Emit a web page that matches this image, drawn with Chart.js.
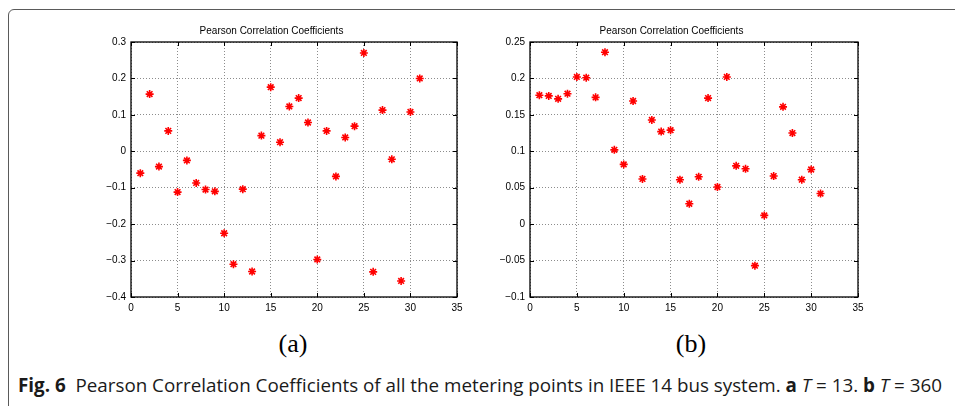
<!DOCTYPE html>
<html>
<head>
<meta charset="utf-8">
<script src="https://cdn.jsdelivr.net/npm/chart.js@4/dist/chart.umd.min.js"></script>
<style>
  html, body { margin:0; padding:0; background:#fff; }
  body { width:955px; height:406px; position:relative; overflow:hidden; }
  #frame { position:absolute; left:8px; top:9px; width:1000px; height:500px; border:1px solid #5a5a5a; border-top-left-radius:6px; box-sizing:border-box; }
  .wrap { position:absolute; top:20px; height:300px; }
  #wA { left:86px; width:384px; }
  #wB { left:485px; width:386px; }
  .sub { position:absolute; top:329px; font-family:"Liberation Serif","DejaVu Serif",serif; font-size:26px; line-height:30px; width:80px; text-align:center; color:#000; }
  #subA { left:253px; }
  #subB { left:651px; }
  #cap { position:absolute; left:18px; top:372px; font-family:"Open Sans","Noto Sans",sans-serif; font-size:19px; line-height:26px; white-space:nowrap; color:#1a1a1a; transform-origin:0 0; }
  #cap b { font-weight:700; }
</style>
</head>
<body>
<div id="frame"></div>
<div class="wrap" id="wA"><canvas id="cA"></canvas></div>
<div class="wrap" id="wB"><canvas id="cB"></canvas></div>
<div class="sub" id="subA">(a)</div>
<div class="sub" id="subB">(b)</div>
<div id="cap"><b>Fig. 6</b>&nbsp; Pearson Correlation Coefficients of all the metering points in IEEE 14 bus system. <b>a</b> <i>T</i> = 13. <b>b</b> <i>T</i> = 360</div>
<script>
// ---- data ----
const meteringPoints = [1,2,3,4,5,6,7,8,9,10,11,12,13,14,15,16,17,18,19,20,21,22,23,24,25,26,27,28,29,30,31];
const pccA = [-0.060, 0.157, -0.042, 0.056, -0.112, -0.025, -0.087, -0.105, -0.110, -0.225, -0.310, -0.104, -0.330, 0.043, 0.176, 0.025, 0.123, 0.146, 0.079, -0.297, 0.056, -0.069, 0.038, 0.069, 0.270, -0.331, 0.113, -0.022, -0.356, 0.108, 0.200];
const pccB = [0.177, 0.176, 0.172, 0.179, 0.202, 0.201, 0.174, 0.236, 0.102, 0.082, 0.169, 0.062, 0.143, 0.127, 0.129, 0.061, 0.028, 0.065, 0.173, 0.051, 0.202, 0.080, 0.076, -0.057, 0.012, 0.066, 0.161, 0.125, 0.061, 0.075, 0.042];
const xTicks = [0,5,10,15,20,25,30,35];
const yTicksA = [-0.4,-0.3,-0.2,-0.1,0,0.1,0.2,0.3];
const yTicksB = [-0.1,-0.05,0,0.05,0.1,0.15,0.2,0.25];
const chartTitle = 'Pearson Correlation Coefficients';

function fmt(v){
  const r = Math.round(v*1000)/1000;
  if (r === 0) return '0';
  return (r < 0 ? '\u2212' : '') + String(Math.abs(r));
}

const boxPlugin = {
  id:'boxPlugin',
  afterDraw(chart){
    const {ctx, chartArea:a, scales} = chart;
    ctx.save();
    ctx.strokeStyle = '#000';
    ctx.lineWidth = 1;
    ctx.beginPath();
    const L = 4;
    scales.x.ticks.forEach(t => {
      const px = Math.round(scales.x.getPixelForValue(t.value)) + 0.5;
      ctx.moveTo(px, a.bottom); ctx.lineTo(px, a.bottom - L);
      ctx.moveTo(px, a.top); ctx.lineTo(px, a.top + L);
    });
    scales.y.ticks.forEach(t => {
      const py = Math.round(scales.y.getPixelForValue(t.value)) + 0.5;
      ctx.moveTo(a.left, py); ctx.lineTo(a.left + L, py);
      ctx.moveTo(a.right, py); ctx.lineTo(a.right - L, py);
    });
    ctx.stroke();
    ctx.lineWidth = 1.3;
    ctx.strokeRect(a.left, a.top, a.right - a.left, a.bottom - a.top);
    ctx.restore();
  }
};

function makeChart(id, values, yTicks){
  const data = meteringPoints.map((p,i) => ({x:p, y:values[i]}));
  const font = {family:'"Liberation Sans", Arial, sans-serif', size:10};
  return new Chart(document.getElementById(id), {
    type:'scatter',
    data:{ datasets:[{
      data,
      pointStyle:'star',
      radius:4,
      hoverRadius:4,
      borderColor:'#ff0000',
      backgroundColor:'#ff0000',
      borderWidth:1.6
    }]},
    options:{
      responsive:true,
      maintainAspectRatio:false,
      animation:false,
      events:[],
      layout:{ padding:{left:0, right:13, top:0, bottom:0} },
      plugins:{
        legend:{display:false},
        tooltip:{enabled:false},
        title:{ display:true, text:chartTitle, color:'#000',
          font:{family:'"Liberation Sans", Arial, sans-serif', size:10, weight:'normal'},
          padding:{top:5, bottom:5} }
      },
      scales:{
        x:{
          type:'linear', min:0, max:35,
          afterBuildTicks(s){ s.ticks = xTicks.map(v => ({value:v})); },
          afterFit(s){ s.height = 23; },
          ticks:{ color:'#000', font, padding:5, maxRotation:0, callback:v => fmt(v) },
          grid:{ color:'#8c8c8c', lineWidth:1, drawTicks:false },
          border:{ display:false, dash:[1,2] }
        },
        y:{
          type:'linear', min:yTicks[0], max:yTicks[yTicks.length-1],
          afterBuildTicks(s){ s.ticks = yTicks.map(v => ({value:v})); },
          afterFit(s){ s.width = 45; },
          ticks:{ color:'#000', font, padding:5, callback:v => fmt(v) },
          grid:{ color:'#8c8c8c', lineWidth:1, drawTicks:false },
          border:{ display:false, dash:[1,2] }
        }
      }
    },
    plugins:[boxPlugin]
  });
}

makeChart('cA', pccA, yTicksA);
makeChart('cB', pccB, yTicksB);

// fit caption to reference width
const cap = document.getElementById('cap');
const w = cap.getBoundingClientRect().width;
cap.style.transform = 'scaleX(' + (924 / w) + ')';
</script>
</body>
</html>
